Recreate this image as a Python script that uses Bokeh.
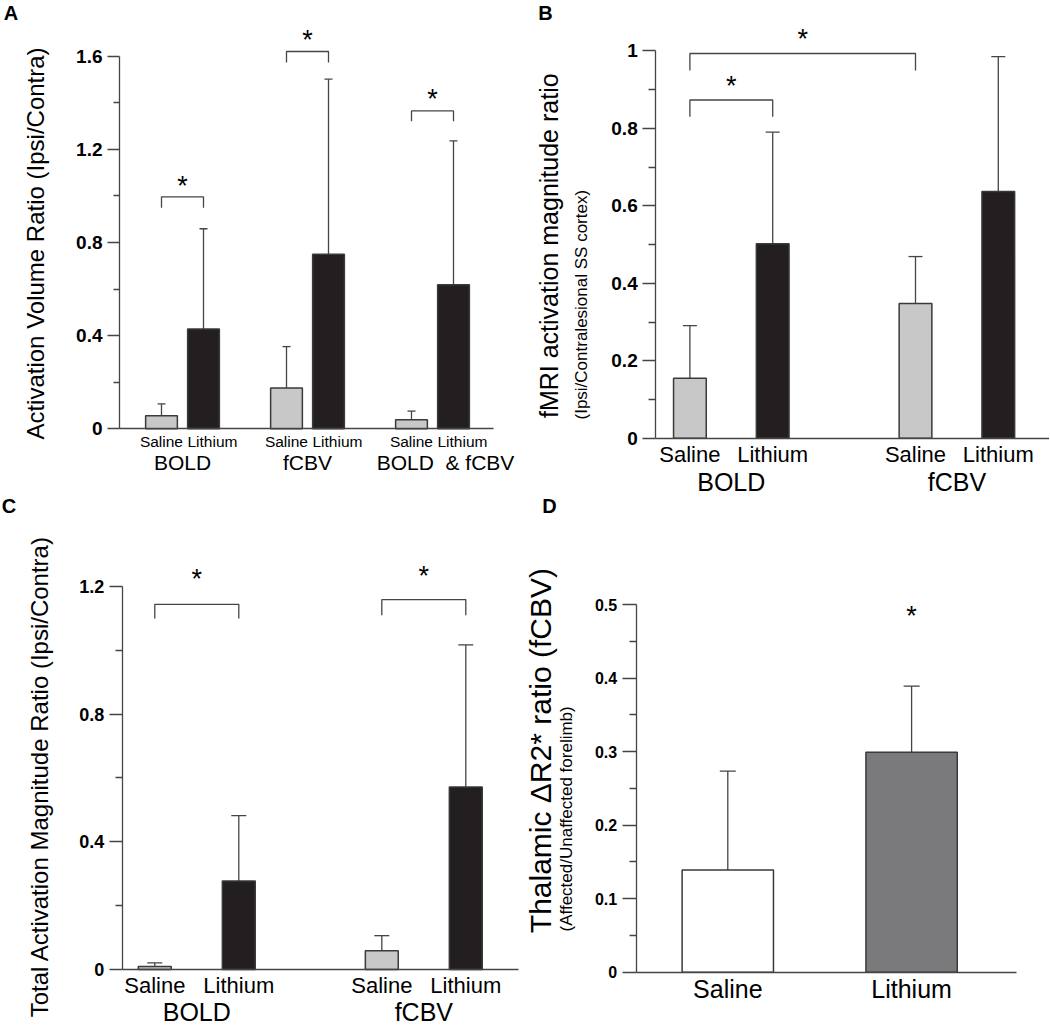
import math
from bokeh.plotting import figure
from bokeh.models import (ColumnDataSource, Range1d, FixedTicker, PrintfTickFormatter,
                          Whisker, TeeHead, Label, LabelSet)
from bokeh.layouts import row, column
from bokeh.core.properties import value
from bokeh.embed import file_html
from bokeh.resources import INLINE

FONT = "Liberation Sans"
AX = "#454545"
LW = 1.3
SALINE_FILL = "#c8c8c8"
LITHIUM_FILL = "#231f20"

# ---------------- data ----------------
treatments = ["Saline", "Lithium"]

# Panel A: activation volume ratio
a_groups = ["BOLD", "fCBV", "BOLD\u00a0 & fCBV"]
a_saline = [0.056, 0.175, 0.039]
a_saline_upper = [0.107, 0.353, 0.076]
a_lithium = [0.429, 0.750, 0.618]
a_lithium_upper = [0.859, 1.501, 1.236]
a_brackets = [(0, 1), (2, 3), (4, 5)]
a_bracket_top = [0.996, 1.620, 1.365]
a_bracket_leg = [0.949, 1.573, 1.321]
a_star_y = [1.055, 1.684, 1.428]
a_yticks = [0, 0.4, 0.8, 1.2, 1.6]
a_yminor = [0.2, 0.6, 1.0, 1.4]

# Panel B: fMRI activation magnitude ratio
b_groups = ["BOLD", "fCBV"]
b_saline = [0.155, 0.348]
b_saline_upper = [0.291, 0.469]
b_lithium = [0.502, 0.637]
b_lithium_upper = [0.790, 0.985]
b_brackets = [(0, 2), (0, 1)]
b_bracket_top = [0.993, 0.873]
b_bracket_leg = [0.949, 0.830]
b_star_y = [1.039, 0.917]
b_yticks = [0, 0.2, 0.4, 0.6, 0.8, 1.0]
b_yminor = [0.1, 0.3, 0.5, 0.7, 0.9]

# Panel C: total activation magnitude ratio
c_groups = ["BOLD", "fCBV"]
c_saline = [0.0095, 0.059]
c_saline_upper = [0.021, 0.106]
c_lithium = [0.277, 0.572]
c_lithium_upper = [0.482, 1.017]
c_brackets = [(0, 1), (2, 3)]
c_bracket_top = [1.144, 1.159]
c_bracket_leg = [1.100, 1.110]
c_star_y = [1.232, 1.244]
c_yticks = [0, 0.4, 0.8, 1.2]
c_yminor = [0.2, 0.6, 1.0]

# Panel D: thalamic dR2* ratio
d_categories = ["Saline", "Lithium"]
d_values = [0.139, 0.299]
d_upper = [0.2735, 0.389]
d_star_y = [0.488]
d_yticks = [0, 0.1, 0.2, 0.3, 0.4, 0.5]
d_yminor = [0.05, 0.15, 0.25, 0.35, 0.45]


# ---------------- geometry helpers (page pixels -> data) ----------------
def geom(ox, oy, W, H, ref_x, ref_px, sx, zero_py, sy):
    g = dict(ox=ox, oy=oy, W=W, H=H, sx=sx, sy=sy)
    g["x0"] = ref_x - (ref_px - ox) / sx
    g["x1"] = g["x0"] + W / sx
    g["y1"] = (zero_py - oy) / sy
    g["y0"] = g["y1"] - H / sy
    return g


def X(g, px):
    return g["x0"] + (px - g["ox"]) / g["sx"]


def Y(g, py):
    return g["y1"] - (py - g["oy"]) / g["sy"]


def make_fig(g, axis_px, xend_px, ytop, yticks, yminor, tmaj, tmin, tfs):
    p = figure(width=g["W"], height=g["H"],
               x_range=Range1d(g["x0"], g["x1"]), y_range=Range1d(g["y0"], g["y1"]),
               min_border=0, output_backend="svg", toolbar_location=None, title=None)
    p.outline_line_color = None
    p.background_fill_color = "white"
    p.border_fill_color = "white"
    p.xgrid.visible = False
    p.ygrid.visible = False
    ax0 = X(g, axis_px)
    xa = p.xaxis[0]
    xa.fixed_location = 0
    xa.bounds = (ax0, X(g, xend_px))
    xa.ticker = FixedTicker(ticks=[])
    xa.major_tick_line_color = None
    xa.minor_tick_line_color = None
    xa.major_label_text_font_size = "0px"
    xa.axis_line_color = AX
    xa.axis_line_width = LW
    ya = p.yaxis[0]
    ya.fixed_location = ax0
    ya.bounds = (0, ytop)
    ya.ticker = FixedTicker(ticks=yticks, minor_ticks=yminor)
    ya.formatter = PrintfTickFormatter(format="%g")
    ya.axis_line_color = AX
    ya.axis_line_width = LW
    ya.major_tick_line_color = AX
    ya.major_tick_line_width = LW
    ya.minor_tick_line_color = AX
    ya.minor_tick_line_width = LW
    ya.major_tick_in = 0
    ya.minor_tick_in = 0
    ya.major_tick_out = tmaj
    ya.minor_tick_out = tmin
    ya.major_label_standoff = 5
    ya.major_label_text_font = FONT
    ya.major_label_text_font_style = "bold"
    ya.major_label_text_font_size = f"{tfs}px"
    ya.major_label_text_color = "black"
    return p


def page_label(p, g, px, py, text, size, angle=0.0, align="center",
               baseline="middle", style="normal"):
    p.add_layout(Label(x=X(g, px), y=Y(g, py), text=text, angle=angle,
                       text_align=align, text_baseline=baseline,
                       text_font=FONT, text_font_size=f"{size}px",
                       text_font_style=style, text_color="black"))


def label_set(p, xs, ys, texts, size, y_offset=0, x_offset=0, align="center",
              baseline="middle"):
    src = ColumnDataSource(dict(x=xs, y=ys, t=texts))
    p.add_layout(LabelSet(x="x", y="y", text="t", source=src, x_offset=x_offset,
                          y_offset=y_offset, text_align=align, text_baseline=baseline,
                          text_font=value(FONT), text_font_size=value(f"{size}px"),
                          text_color="black"))


def add_bars(p, xs, vals, uppers, fills, width, cap):
    src = ColumnDataSource(dict(x=xs, top=vals, up=uppers, fill=fills))
    w = Whisker(base="x", lower="top", upper="up", source=src, dimension="height",
                line_color=AX, line_width=LW, lower_head=None,
                upper_head=TeeHead(size=cap, line_color=AX, line_width=LW))
    p.add_layout(w)
    p.vbar(x="x", top="top", width=width, bottom=0, source=src,
           fill_color="fill", line_color="#3a3a3a", line_width=1.5)


STAR = 27


def add_stars(p, xs, ys):
    label_set(p, xs, ys, ["*"] * len(xs), STAR, y_offset=-0.45 * STAR,
              baseline="alphabetic")


def add_brackets(p, xs, pairs, tops, legs, stars):
    mx, my, sx = [], [], []
    for (i, j), t, l in zip(pairs, tops, legs):
        mx.append([xs[i], xs[i], xs[j], xs[j]])
        my.append([l, t, t, l])
        sx.append((xs[i] + xs[j]) / 2)
    p.multi_line(xs=mx, ys=my, line_color=AX, line_width=LW)
    add_stars(p, sx, stars)


def grouped(p, n, off, bw, cap, sal, sal_up, lit, lit_up, brackets, btop, bleg, stars):
    xs, vals, ups, fills = [], [], [], []
    for k in range(n):
        c = k + 1
        xs += [c - off, c + off]
        vals += [sal[k], lit[k]]
        ups += [sal_up[k], lit_up[k]]
        fills += [SALINE_FILL, LITHIUM_FILL]
    add_bars(p, xs, vals, ups, fills, bw, cap)
    add_brackets(p, xs, brackets, btop, bleg, stars)
    return xs


LETTER = 20

# ---------------- panel A ----------------
gA = geom(0, 0, 520, 496, 1.0, 182.0, 125.0, 428.3, 232.9)
pA = make_fig(gA, 119, 493, 1.6, a_yticks, a_yminor, 12, 6, 19)
xsA = grouped(pA, 3, 0.168, 0.254, 8, a_saline, a_saline_upper, a_lithium, a_lithium_upper,
              a_brackets, a_bracket_top, a_bracket_leg, a_star_y)
cA = [1, 2, 3]
label_set(pA, cA, [0] * 3, [treatments[0]] * 3, 15.5, y_offset=-12.4, x_offset=0.5,
          align="right")
label_set(pA, cA, [0] * 3, [treatments[1]] * 3, 15.5, y_offset=-12.4, x_offset=5.0,
          align="left")
label_set(pA, cA[:2], [0] * 2, a_groups[:2], 21, y_offset=-33.4)
label_set(pA, cA[2:], [0], a_groups[2:], 21, y_offset=-33.4, x_offset=13)
page_label(pA, gA, 35, 243, "Activation Volume Ratio (Ipsi/Contra)", 24, angle=math.pi / 2)
page_label(pA, gA, 10.5, 12.5, "A", LETTER, style="bold")

# ---------------- panel B ----------------
gB = geom(520, 0, 529, 496, 1.0, 730.8, 225.6, 437.8, 387.5)
pB = make_fig(gB, 655.2, 1049, 1.0, b_yticks, b_yminor, 13, 7, 19)
xsB = grouped(pB, 2, 0.1835, 0.145, 14, b_saline, b_saline_upper, b_lithium, b_lithium_upper,
              b_brackets, b_bracket_top, b_bracket_leg, b_star_y)
label_set(pB, xsB, [0] * 4, treatments * 2, 22, y_offset=-16.2)
label_set(pB, [1, 2], [0, 0], b_groups, 25, y_offset=-43.9)
page_label(pB, gB, 548, 417.5, "fMRI activation magnitude ratio", 25,
           angle=math.pi / 2, align="left")
page_label(pB, gB, 581, 419, "(Ipsi/Contralesional SS cortex)", 17,
           angle=math.pi / 2, align="left")
page_label(pB, gB, 545, 12.5, "B", LETTER, style="bold")

# ---------------- panel C ----------------
gC = geom(0, 496, 520, 531, 1.0, 196.3, 227.0, 969.0, 319.2)
pC = make_fig(gC, 121.7, 518.3, 1.2, c_yticks, c_yminor, 13, 7, 18)
xsC = grouped(pC, 2, 0.185, 0.145, 15, c_saline, c_saline_upper, c_lithium, c_lithium_upper,
              c_brackets, c_bracket_top, c_bracket_leg, c_star_y)
label_set(pC, xsC, [0] * 4, treatments * 2, 22, y_offset=-16)
label_set(pC, [1, 2], [0, 0], c_groups, 25, y_offset=-42.7)
page_label(pC, gC, 39, 776, "Total Activation Magnitude Ratio (Ipsi/Contra)", 24,
           angle=math.pi / 2)
page_label(pC, gC, 8.5, 505, "C", LETTER, style="bold")

# ---------------- panel D ----------------
gD = geom(520, 496, 529, 531, 1.0, 727.3, 183.8, 971.7, 735.4)
pD = make_fig(gD, 635.7, 1015.7, 0.5, d_yticks, d_yminor, 14, 7, 16)
xsD = [1, 2]
add_bars(pD, xsD, d_values, d_upper, ["white", "#7a7a7c"], 0.497, 16)
add_stars(pD, [2], d_star_y)
label_set(pD, xsD, [0, 0], d_categories, 25, y_offset=-16.6)
page_label(pD, gD, 540.3, 932.7, "Thalamic \u0394R2* ratio (fCBV)", 30,
           angle=math.pi / 2, align="left")
page_label(pD, gD, 565.6, 931, "(Affected/Unaffected forelimb)", 17,
           angle=math.pi / 2, align="left")
page_label(pD, gD, 549, 505, "D", LETTER, style="bold")

layout = column(row(pA, pB), row(pC, pD))
open("out.html", "w").write(file_html(layout, INLINE))
